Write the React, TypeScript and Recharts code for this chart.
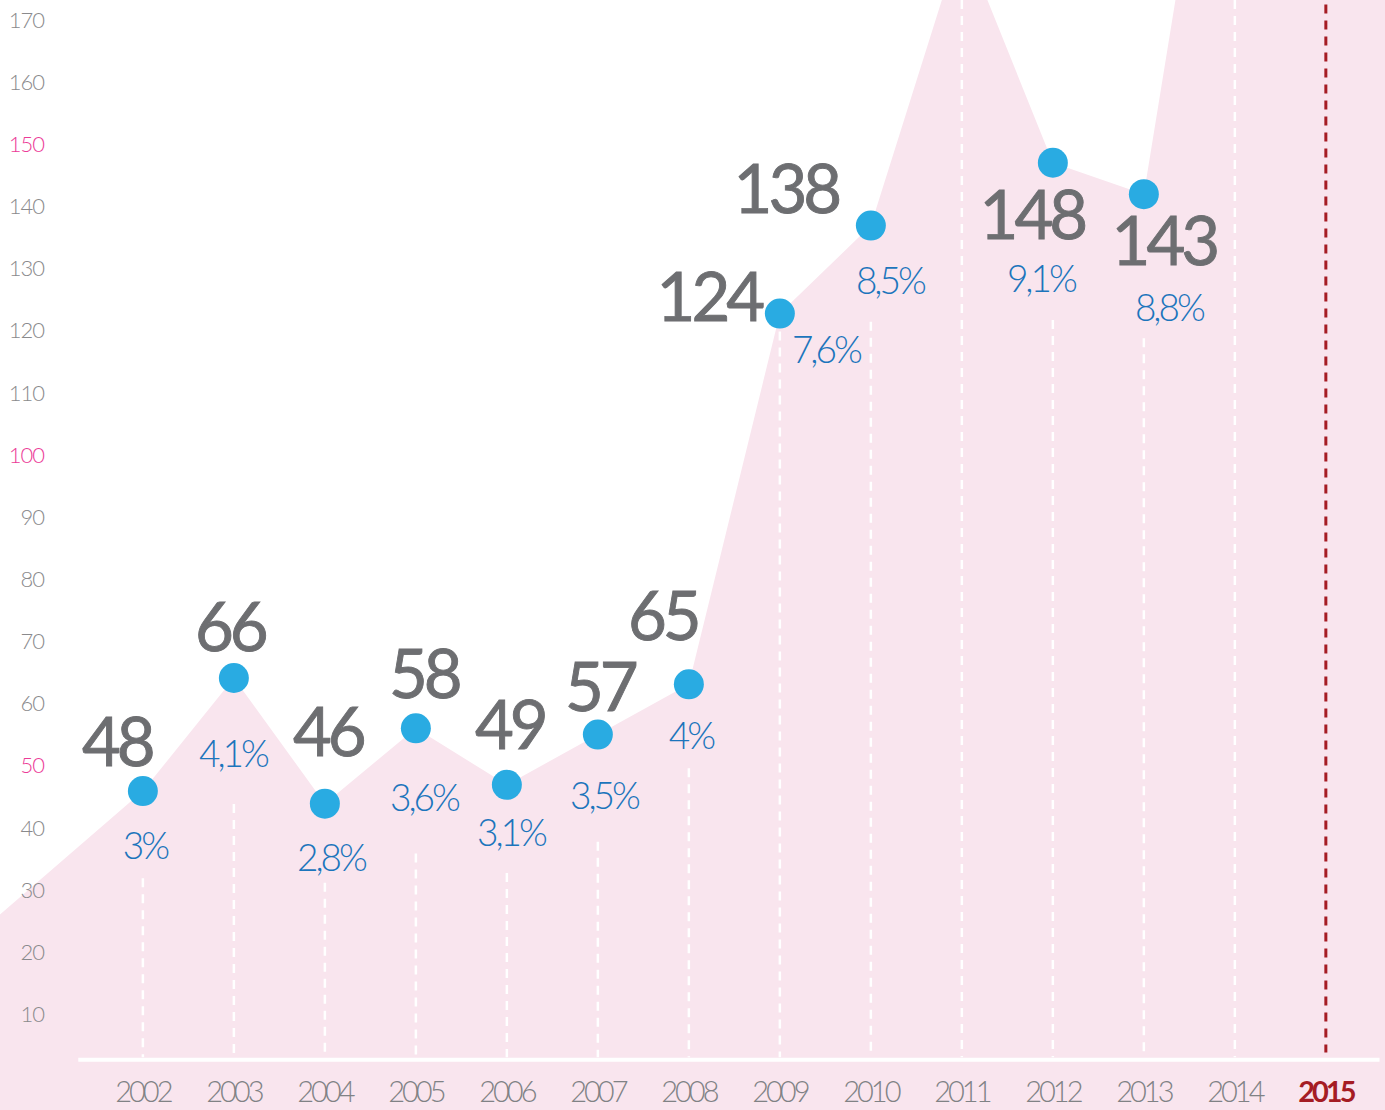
import { ComposedChart, Area, Scatter, XAxis, YAxis, ReferenceLine } from "recharts";

const years = [2002, 2003, 2004, 2005, 2006, 2007, 2008, 2009, 2010, 2011, 2012, 2013, 2014, 2015];
const pointYears = [2002, 2003, 2004, 2005, 2006, 2007, 2008, 2009, 2010, 2012, 2013];
const pointValues = [48, 66, 46, 58, 49, 57, 65, 124, 138, 148, 143];
const growthLabels = ["3%", "4,1%", "2,8%", "3,6%", "3,1%", "3,5%", "4%", "7,6%", "8,5%", "9,1%", "8,8%"];
// the pink area runs past the frame at these years
const offFrameYears = [2000, 2011, 2014, 2015, 2016];
const offFrameValues = [23, 184, 232, 260, 280];
const yTicks = [10, 20, 30, 40, 50, 60, 70, 80, 90, 100, 110, 120, 130, 140, 150, 160, 170];
const pinkTicks = [50, 100, 150];
const highlightYear = 2015;

const W = 1385;
const H = 1110;
const VMIN = -2.75;
const VMAX = 173.9;
const PX = (H - 1) / (VMAX - VMIN);
const BASE = 5.25;

const PINK = "#f9e5ee";
const DOT = "#29abe2";
const GREY = "#6d6e71";
const BLUE = "#1c75bc";
const RED = "#a51c24";
const FONT = "Lato, 'Open Sans', sans-serif";

// offsets from the dot centre in px: value label dx, dy, growth dx, dy, gap before the guide
const placement: Record<number, number[]> = {
  2002: [-26, -49, 2, 55, 87],
  2003: [-4, -51, -1, 76, 126],
  2004: [3, -72, 6, 54, 79],
  2005: [8, -54, 8, 70, 125],
  2006: [3, -60, 4, 48, 88],
  2007: [2, -48, 6, 61, 107],
  2008: [-26, -68, 2, 52, 84],
  2009: [-71, -17, 46, 36, 18],
  2010: [-85, -37, 19, 55, 96],
  2012: [-21, 52, -12, 116, 157],
  2013: [20, 47, 25, 114, 144],
};

const points = pointYears.map((year, i) => ({
  year,
  v: pointValues[i],
  label: String(pointValues[i]),
  growth: growthLabels[i],
}));

const areaData = [
  ...points.map((p) => ({ year: p.year, v: p.v })),
  ...offFrameYears.map((year, i) => ({ year, v: offFrameValues[i] })),
].sort((a, b) => a.year - b.year);

const YTick = (props: any) => {
  const { x, y, payload } = props;
  const pink = pinkTicks.includes(payload.value);
  return (
    <text
      x={x}
      y={y}
      dy="0.36em"
      textAnchor="end"
      fontFamily={FONT}
      fontWeight={300}
      fontSize={22}
      letterSpacing={-1}
      fill={pink ? "#ec3b97" : "#8a8a8c"}
    >
      {payload.value}
    </text>
  );
};

const XTick = (props: any) => {
  const { x, y, payload } = props;
  const hl = payload.value === highlightYear;
  return (
    <text
      x={x}
      y={y}
      dy={-8}
      textAnchor="middle"
      fontFamily={FONT}
      fontWeight={hl ? 700 : 300}
      fontSize={29}
      letterSpacing={-3}
      fill={hl ? RED : "#808285"}
    >
      {payload.value}
    </text>
  );
};

const DotShape = (props: any) => {
  const { cx, cy, payload } = props;
  const [vdx, vdy, gdx, gdy] = placement[payload.year];
  return (
    <g>
      <circle cx={cx} cy={cy} r={15} fill={DOT} />
      <text
        x={cx + vdx}
        y={cy + vdy + 24}
        textAnchor="middle"
        fontFamily={FONT}
        fontSize={67}
        letterSpacing={-4}
        fill={GREY}
        stroke={GREY}
        strokeWidth={0.9}
      >
        {payload.label}
      </text>
      <text
        x={cx + gdx}
        y={cy + gdy + 13}
        textAnchor="middle"
        fontFamily={FONT}
        fontWeight={300}
        fontSize={37}
        letterSpacing={-3}
        fill={BLUE}
      >
        {payload.growth}
      </text>
    </g>
  );
};

const guideTop = (year: number) => {
  const i = pointYears.indexOf(year);
  if (i < 0) return VMAX;
  return pointValues[i] - placement[year][4] / PX;
};

export default function App() {
  return (
    <div style={{ width: W, height: H, background: "#fff" }}>
      <style>{`html,body{margin:0;padding:0;overflow:hidden}`}</style>
      <ComposedChart width={W} height={H} data={areaData} margin={{ top: 0, right: 0, bottom: 0, left: 0 }}>
        <XAxis
          dataKey="year"
          type="number"
          domain={[2000.43, 2015.65]}
          ticks={years}
          allowDataOverflow
          height={1}
          mirror
          axisLine={false}
          tickLine={false}
          tickSize={0}
          tickMargin={0}
          interval={0}
          tick={<XTick />}
        />
        <YAxis
          yAxisId="ticks"
          type="number"
          domain={[-5.45, 173.2]}
          ticks={yTicks}
          allowDataOverflow
          width={1}
          mirror
          axisLine={false}
          tickLine={false}
          tickSize={0}
          tickMargin={44}
          interval={0}
          tick={<YTick />}
        />
        <YAxis yAxisId="vals" dataKey="v" type="number" domain={[VMIN, VMAX]} allowDataOverflow hide />
        <Area
          yAxisId="vals"
          dataKey="v"
          type="linear"
          stroke="none"
          fill={PINK}
          fillOpacity={1}
          baseValue={VMIN}
          isAnimationActive={false}
        />
        <ReferenceLine
          yAxisId="vals"
          segment={[
            { x: 2001.29, y: BASE },
            { x: 2015.59, y: BASE },
          ]}
          stroke="#fff"
          strokeWidth={4}
        />
        {years
          .filter((y) => y !== highlightYear)
          .map((year) => (
            <ReferenceLine
              key={year}
              yAxisId="vals"
              segment={[
                { x: year, y: guideTop(year) },
                { x: year, y: BASE + 0.4 },
              ]}
              stroke="#fff"
              strokeWidth={2.5}
              strokeDasharray="9 7"
            />
          ))}
        <ReferenceLine
          yAxisId="vals"
          segment={[
            { x: highlightYear, y: 173.2 },
            { x: highlightYear, y: 6.4 },
          ]}
          stroke={RED}
          strokeWidth={3}
          strokeDasharray="9 7"
        />
        <Scatter yAxisId="vals" data={points} dataKey="v" shape={<DotShape />} isAnimationActive={false} />
      </ComposedChart>
    </div>
  );
}
